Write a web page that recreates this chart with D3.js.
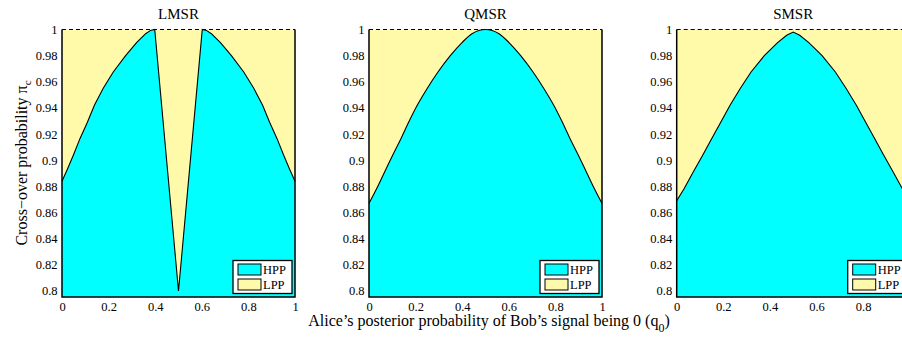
<!DOCTYPE html>
<html>
<head>
<meta charset="utf-8">
<title>Cross-over probability</title>
<script src="https://cdn.jsdelivr.net/npm/d3@7"></script>
<style>
  body { margin: 0; background: #fff; }
  text { font-family: "Liberation Serif", "Times New Roman", serif; fill: #000; }
</style>
</head>
<body>
<script>
// panel titles
var titles = ["LMSR", "QMSR", "SMSR"];

// q0 values and cross-over probability
var lmsrQ  = [0, 0.024, 0.049, 0.077, 0.109, 0.139, 0.177, 0.220, 0.273, 0.320, 0.359, 0.380, 0.398,
              0.5,
              0.602, 0.620, 0.641, 0.680, 0.727, 0.780, 0.823, 0.861, 0.891, 0.923, 0.951, 0.976, 1];
var lmsrPi = [0.884, 0.8935, 0.904, 0.9165, 0.929, 0.942, 0.955, 0.9675, 0.980, 0.990, 0.9968, 0.9993, 1,
              0.8,
              1, 0.9993, 0.9968, 0.990, 0.980, 0.9675, 0.955, 0.942, 0.929, 0.9165, 0.904, 0.8935, 0.884];

var qmsrQ  = [0, 0.032, 0.067, 0.102, 0.137, 0.170, 0.207, 0.249, 0.296, 0.349, 0.399, 0.442, 0.5,
              0.558, 0.601, 0.651, 0.704, 0.751, 0.793, 0.830, 0.863, 0.898, 0.933, 0.968, 1];
var qmsrPi = [0.867, 0.878, 0.891, 0.904, 0.9165, 0.929, 0.942, 0.9547, 0.9675, 0.980, 0.990, 0.9968, 1,
              0.9968, 0.990, 0.980, 0.9675, 0.9547, 0.942, 0.929, 0.9165, 0.904, 0.891, 0.878, 0.867];

var smsrQ  = [0, 0.031, 0.071, 0.112, 0.150, 0.189, 0.229, 0.272, 0.319, 0.376, 0.433, 0.472, 0.5,
              0.528, 0.567, 0.624, 0.681, 0.728, 0.771, 0.811, 0.850, 0.888, 0.929, 0.969, 1];
var smsrPi = [0.869, 0.878, 0.891, 0.904, 0.9165, 0.929, 0.942, 0.9547, 0.9675, 0.980, 0.990, 0.9956, 0.998,
              0.9956, 0.990, 0.980, 0.9675, 0.9547, 0.942, 0.929, 0.9165, 0.904, 0.891, 0.878, 0.869];

var xTicks = [0, 0.2, 0.4, 0.6, 0.8, 1];
var yTicks = [0.8, 0.82, 0.84, 0.86, 0.88, 0.9, 0.92, 0.94, 0.96, 0.98, 1];
var legendLabels = ["HPP", "LPP"];

var qs  = [lmsrQ, qmsrQ, smsrQ];
var pis = [lmsrPi, qmsrPi, smsrPi];

var width = 902, height = 339;
var panelLeft = [62, 369, 676.7],
    plotTop = 29.5,
    plotW = 233,
    plotH = 267.5;

var hppColor = "#00ffff",
    lppColor = "rgb(255,250,170)";

var svg = d3.select("body").append("svg")
    .attr("width", width)
    .attr("height", height);

var x = d3.scaleLinear().domain([0, 1]).range([0, plotW]);
var y = d3.scaleLinear().domain([0.7954, 1]).range([plotH, 0]);

titles.forEach(function(t, i) {
  var data = qs[i].map(function(q, j) { return {q: q, pi: pis[i][j]}; });
  var g = svg.append("g").attr("transform", "translate(" + panelLeft[i] + "," + plotTop + ")");

  // LPP region (background)
  g.append("rect")
    .attr("width", plotW).attr("height", plotH)
    .attr("fill", lppColor);

  // HPP region under the curve
  var curve = i === 1 ? d3.curveMonotoneX : d3.curveLinear;
  g.append("path").datum(data)
    .attr("fill", hppColor)
    .attr("d", d3.area().curve(curve)
      .x(function(d) { return x(d.q); })
      .y0(plotH)
      .y1(function(d) { return y(d.pi); }));

  g.append("path").datum(data)
    .attr("fill", "none")
    .attr("stroke", "#000")
    .attr("stroke-width", 1.1)
    .attr("d", d3.line().curve(curve)
      .x(function(d) { return x(d.q); })
      .y(function(d) { return y(d.pi); }));

  // dashed line at pi = 1
  g.append("line")
    .attr("x1", 0).attr("x2", plotW)
    .attr("y1", y(1)).attr("y2", y(1))
    .attr("stroke", "#000").attr("stroke-width", 1)
    .attr("stroke-dasharray", "4,3");

  // frame: left, bottom, right
  g.append("path")
    .attr("d", "M0," + y(1) + "V" + plotH + "H" + plotW + "V" + y(1))
    .attr("fill", "none").attr("stroke", "#000").attr("stroke-width", 1.5);

  // axes
  var ya = g.append("g")
    .call(d3.axisLeft(y).tickValues(yTicks).tickSize(0).tickPadding(4.5)
      .tickFormat(function(d) { return d3.format("")(+d.toFixed(2)); }));
  ya.select(".domain").remove();
  ya.selectAll("text").style("font-size", "12.5px").style("font-family", "Liberation Serif");

  var xa = g.append("g").attr("transform", "translate(0," + plotH + ")")
    .call(d3.axisBottom(x).tickValues(xTicks).tickSize(0).tickPadding(5)
      .tickFormat(function(d) { return d3.format("")(+d.toFixed(1)); }));
  xa.select(".domain").remove();
  xa.selectAll("text").style("font-size", "12.5px").style("font-family", "Liberation Serif");

  // title
  g.append("text")
    .attr("x", plotW / 2).attr("y", 19 - plotTop)
    .attr("text-anchor", "middle")
    .style("font-size", "15px")
    .text(t);

  // legend
  var lg = g.append("g").attr("transform", "translate(" + (plotW - 62) + "," + (plotH - 36.5) + ")");
  lg.append("rect")
    .attr("width", 59).attr("height", 33)
    .attr("fill", "#fff").attr("stroke", "#000").attr("stroke-width", 1.3);
  legendLabels.forEach(function(l, k) {
    lg.append("rect")
      .attr("x", 5).attr("y", 3.5 + k * 15)
      .attr("width", 23).attr("height", 11)
      .attr("fill", k === 0 ? hppColor : lppColor)
      .attr("stroke", "#000").attr("stroke-width", 1);
    lg.append("text")
      .attr("x", 30).attr("y", 13.5 + k * 15)
      .style("font-size", "12.5px")
      .text(l);
  });
});

// x axis label
var xl = svg.append("text")
  .attr("x", 489).attr("y", 326)
  .attr("text-anchor", "middle")
  .style("font-size", "16px");
xl.append("tspan").text("Alice\u2019s posterior probability of Bob\u2019s signal being 0 (q");
xl.append("tspan").attr("dy", 6).style("font-size", "12px").text("0");
xl.append("tspan").attr("dy", -6).text(")");

// y axis label
var yl = svg.append("text")
  .attr("transform", "translate(27,163) rotate(-90)")
  .attr("text-anchor", "middle")
  .style("font-size", "16px");
yl.append("tspan").text("Cross\u2212over probability \u03c0");
yl.append("tspan").attr("dy", 4).style("font-size", "11px").text("c");
</script>
</body>
</html>
